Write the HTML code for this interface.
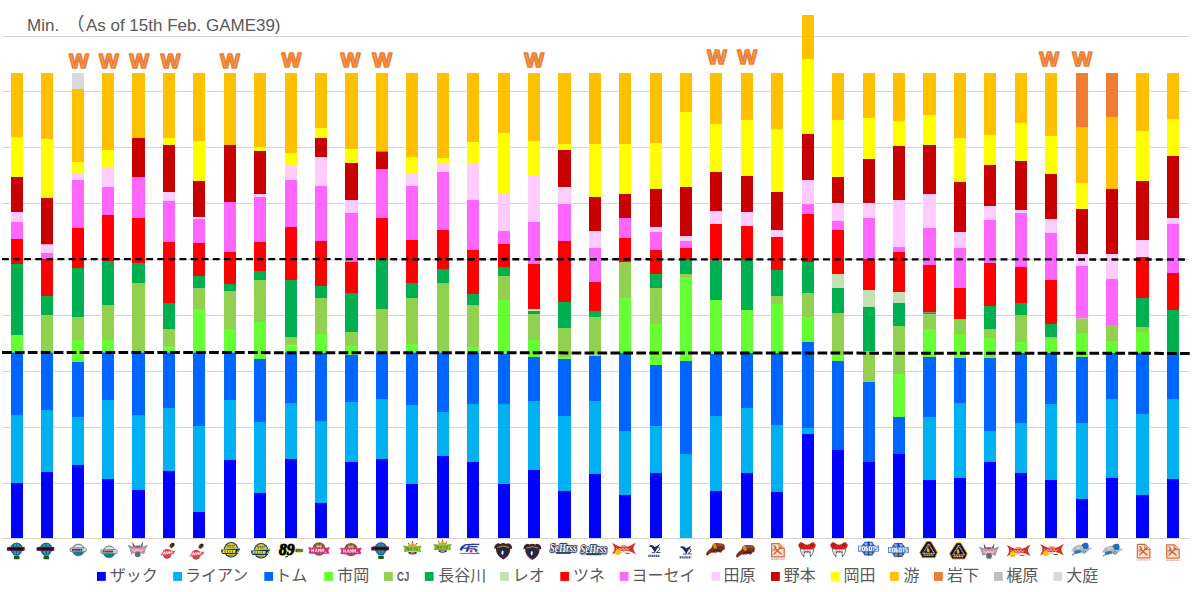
<!DOCTYPE html>
<html><head><meta charset="utf-8"><title>Min.</title>
<style>html,body{margin:0;padding:0;background:#fff;font-family:"Liberation Sans",sans-serif;}#c{position:relative;width:1193px;height:592px;overflow:hidden}</style></head>
<body><div id="c">
<svg width="1193" height="592" viewBox="0 0 1193 592" style="position:absolute;left:0;top:0">
<rect width="1193" height="592" fill="#fff"/>
<path d="M2 36.5H1189M2 91.5H1189M2 147.5H1189M2 203.5H1189M2 259.5H1189M2 315.5H1189M2 371.5H1189M2 427.5H1189M2 483.5H1189M2 538.5H1189" stroke="#D4D4D6" stroke-width="1" fill="none" shape-rendering="crispEdges"/>
<rect x="11.0" y="73.0" width="12" height="64.0" fill="#FFC000"/>
<rect x="11.0" y="137.0" width="12" height="40.0" fill="#FFFF00"/>
<rect x="11.0" y="177.0" width="12" height="35.0" fill="#C80000"/>
<rect x="11.0" y="212.0" width="12" height="10.0" fill="#FFCCFF"/>
<rect x="11.0" y="222.0" width="12" height="17.0" fill="#FF66FF"/>
<rect x="11.0" y="239.0" width="12" height="25.0" fill="#FF0000"/>
<rect x="11.0" y="264.0" width="12" height="71.0" fill="#00B050"/>
<rect x="11.0" y="335.0" width="12" height="17.5" fill="#66FF33"/>
<rect x="11.0" y="352.5" width="12" height="62.5" fill="#0066FF"/>
<rect x="11.0" y="415.0" width="12" height="68.0" fill="#00B0F0"/>
<rect x="11.0" y="483.0" width="12" height="55.0" fill="#0000FF"/>
<rect x="41.0" y="73.0" width="12" height="66.0" fill="#FFC000"/>
<rect x="41.0" y="139.0" width="12" height="59.0" fill="#FFFF00"/>
<rect x="41.0" y="198.0" width="12" height="46.5" fill="#C80000"/>
<rect x="41.0" y="244.5" width="12" height="8.5" fill="#FFCCFF"/>
<rect x="41.0" y="253.0" width="12" height="6.0" fill="#FF66FF"/>
<rect x="41.0" y="259.0" width="12" height="37.0" fill="#FF0000"/>
<rect x="41.0" y="296.0" width="12" height="19.0" fill="#00B050"/>
<rect x="41.0" y="315.0" width="12" height="37.5" fill="#92D050"/>
<rect x="41.0" y="352.5" width="12" height="57.5" fill="#0066FF"/>
<rect x="41.0" y="410.0" width="12" height="62.0" fill="#00B0F0"/>
<rect x="41.0" y="472.0" width="12" height="66.0" fill="#0000FF"/>
<rect x="72.0" y="73.0" width="12" height="16.0" fill="#D9D9D9"/>
<rect x="72.0" y="89.0" width="12" height="73.0" fill="#FFC000"/>
<rect x="72.0" y="162.0" width="12" height="12.0" fill="#FFFF00"/>
<rect x="72.0" y="174.0" width="12" height="6.0" fill="#FFCCFF"/>
<rect x="72.0" y="180.0" width="12" height="48.0" fill="#FF66FF"/>
<rect x="72.0" y="228.0" width="12" height="40.0" fill="#FF0000"/>
<rect x="72.0" y="268.0" width="12" height="49.0" fill="#00B050"/>
<rect x="72.0" y="317.0" width="12" height="23.0" fill="#92D050"/>
<rect x="72.0" y="340.0" width="12" height="22.0" fill="#66FF33"/>
<rect x="72.0" y="362.0" width="12" height="55.0" fill="#0066FF"/>
<rect x="72.0" y="417.0" width="12" height="48.0" fill="#00B0F0"/>
<rect x="72.0" y="465.0" width="12" height="73.0" fill="#0000FF"/>
<rect x="102.0" y="73.0" width="12" height="77.0" fill="#FFC000"/>
<rect x="102.0" y="150.0" width="12" height="18.0" fill="#FFFF00"/>
<rect x="102.0" y="168.0" width="12" height="19.0" fill="#FFCCFF"/>
<rect x="102.0" y="187.0" width="12" height="28.0" fill="#FF66FF"/>
<rect x="102.0" y="215.0" width="12" height="46.0" fill="#FF0000"/>
<rect x="102.0" y="261.0" width="12" height="44.0" fill="#00B050"/>
<rect x="102.0" y="305.0" width="12" height="35.0" fill="#92D050"/>
<rect x="102.0" y="340.0" width="12" height="12.5" fill="#66FF33"/>
<rect x="102.0" y="352.5" width="12" height="47.5" fill="#0066FF"/>
<rect x="102.0" y="400.0" width="12" height="79.0" fill="#00B0F0"/>
<rect x="102.0" y="479.0" width="12" height="59.0" fill="#0000FF"/>
<rect x="132.0" y="73.0" width="13" height="65.0" fill="#FFC000"/>
<rect x="132.0" y="138.0" width="13" height="39.0" fill="#C80000"/>
<rect x="132.0" y="177.0" width="13" height="41.0" fill="#FF66FF"/>
<rect x="132.0" y="218.0" width="13" height="45.0" fill="#FF0000"/>
<rect x="132.0" y="263.0" width="13" height="20.0" fill="#00B050"/>
<rect x="132.0" y="283.0" width="13" height="69.5" fill="#92D050"/>
<rect x="132.0" y="352.5" width="13" height="62.5" fill="#0066FF"/>
<rect x="132.0" y="415.0" width="13" height="75.0" fill="#00B0F0"/>
<rect x="132.0" y="490.0" width="13" height="48.0" fill="#0000FF"/>
<rect x="163.0" y="73.0" width="12" height="65.0" fill="#FFC000"/>
<rect x="163.0" y="138.0" width="12" height="7.0" fill="#FFFF00"/>
<rect x="163.0" y="145.0" width="12" height="47.0" fill="#C80000"/>
<rect x="163.0" y="192.0" width="12" height="9.0" fill="#FFCCFF"/>
<rect x="163.0" y="201.0" width="12" height="41.0" fill="#FF66FF"/>
<rect x="163.0" y="242.0" width="12" height="61.0" fill="#FF0000"/>
<rect x="163.0" y="303.0" width="12" height="26.0" fill="#00B050"/>
<rect x="163.0" y="329.0" width="12" height="18.5" fill="#92D050"/>
<rect x="163.0" y="347.5" width="12" height="5.0" fill="#66FF33"/>
<rect x="163.0" y="352.5" width="12" height="55.5" fill="#0066FF"/>
<rect x="163.0" y="408.0" width="12" height="63.0" fill="#00B0F0"/>
<rect x="163.0" y="471.0" width="12" height="67.0" fill="#0000FF"/>
<rect x="193.0" y="73.0" width="12" height="68.0" fill="#FFC000"/>
<rect x="193.0" y="141.0" width="12" height="40.0" fill="#FFFF00"/>
<rect x="193.0" y="181.0" width="12" height="36.0" fill="#C80000"/>
<rect x="193.0" y="217.0" width="12" height="2.0" fill="#FFCCFF"/>
<rect x="193.0" y="219.0" width="12" height="24.0" fill="#FF66FF"/>
<rect x="193.0" y="243.0" width="12" height="33.0" fill="#FF0000"/>
<rect x="193.0" y="276.0" width="12" height="12.5" fill="#00B050"/>
<rect x="193.0" y="288.5" width="12" height="20.5" fill="#92D050"/>
<rect x="193.0" y="309.0" width="12" height="43.5" fill="#66FF33"/>
<rect x="193.0" y="352.5" width="12" height="73.5" fill="#0066FF"/>
<rect x="193.0" y="426.0" width="12" height="86.0" fill="#00B0F0"/>
<rect x="193.0" y="512.0" width="12" height="26.0" fill="#0000FF"/>
<rect x="224.0" y="73.0" width="12" height="72.0" fill="#FFC000"/>
<rect x="224.0" y="145.0" width="12" height="57.0" fill="#C80000"/>
<rect x="224.0" y="202.0" width="12" height="50.0" fill="#FF66FF"/>
<rect x="224.0" y="252.0" width="12" height="32.0" fill="#FF0000"/>
<rect x="224.0" y="284.0" width="12" height="7.0" fill="#00B050"/>
<rect x="224.0" y="291.0" width="12" height="38.0" fill="#92D050"/>
<rect x="224.0" y="329.0" width="12" height="23.5" fill="#66FF33"/>
<rect x="224.0" y="352.5" width="12" height="47.5" fill="#0066FF"/>
<rect x="224.0" y="400.0" width="12" height="60.0" fill="#00B0F0"/>
<rect x="224.0" y="460.0" width="12" height="78.0" fill="#0000FF"/>
<rect x="254.0" y="73.0" width="12" height="74.0" fill="#FFC000"/>
<rect x="254.0" y="147.0" width="12" height="4.0" fill="#FFFF00"/>
<rect x="254.0" y="151.0" width="12" height="43.0" fill="#C80000"/>
<rect x="254.0" y="194.0" width="12" height="3.0" fill="#FFCCFF"/>
<rect x="254.0" y="197.0" width="12" height="45.0" fill="#FF66FF"/>
<rect x="254.0" y="242.0" width="12" height="29.0" fill="#FF0000"/>
<rect x="254.0" y="271.0" width="12" height="9.0" fill="#00B050"/>
<rect x="254.0" y="280.0" width="12" height="42.0" fill="#92D050"/>
<rect x="254.0" y="322.0" width="12" height="37.0" fill="#66FF33"/>
<rect x="254.0" y="359.0" width="12" height="63.0" fill="#0066FF"/>
<rect x="254.0" y="422.0" width="12" height="71.0" fill="#00B0F0"/>
<rect x="254.0" y="493.0" width="12" height="45.0" fill="#0000FF"/>
<rect x="285.0" y="73.0" width="12" height="80.0" fill="#FFC000"/>
<rect x="285.0" y="153.0" width="12" height="13.0" fill="#FFFF00"/>
<rect x="285.0" y="166.0" width="12" height="14.0" fill="#FFCCFF"/>
<rect x="285.0" y="180.0" width="12" height="47.0" fill="#FF66FF"/>
<rect x="285.0" y="227.0" width="12" height="53.0" fill="#FF0000"/>
<rect x="285.0" y="280.0" width="12" height="57.0" fill="#00B050"/>
<rect x="285.0" y="337.0" width="12" height="8.5" fill="#92D050"/>
<rect x="285.0" y="345.5" width="12" height="7.0" fill="#66FF33"/>
<rect x="285.0" y="352.5" width="12" height="50.5" fill="#0066FF"/>
<rect x="285.0" y="403.0" width="12" height="56.0" fill="#00B0F0"/>
<rect x="285.0" y="459.0" width="12" height="79.0" fill="#0000FF"/>
<rect x="315.0" y="73.0" width="12" height="55.0" fill="#FFC000"/>
<rect x="315.0" y="128.0" width="12" height="10.0" fill="#FFFF00"/>
<rect x="315.0" y="138.0" width="12" height="19.0" fill="#C80000"/>
<rect x="315.0" y="157.0" width="12" height="29.0" fill="#FFCCFF"/>
<rect x="315.0" y="186.0" width="12" height="55.0" fill="#FF66FF"/>
<rect x="315.0" y="241.0" width="12" height="45.0" fill="#FF0000"/>
<rect x="315.0" y="286.0" width="12" height="12.0" fill="#00B050"/>
<rect x="315.0" y="298.0" width="12" height="36.0" fill="#92D050"/>
<rect x="315.0" y="334.0" width="12" height="19.0" fill="#66FF33"/>
<rect x="315.0" y="353.0" width="12" height="68.0" fill="#0066FF"/>
<rect x="315.0" y="421.0" width="12" height="82.0" fill="#00B0F0"/>
<rect x="315.0" y="503.0" width="12" height="35.0" fill="#0000FF"/>
<rect x="345.0" y="73.0" width="13" height="76.0" fill="#FFC000"/>
<rect x="345.0" y="149.0" width="13" height="14.0" fill="#FFFF00"/>
<rect x="345.0" y="163.0" width="13" height="37.0" fill="#C80000"/>
<rect x="345.0" y="200.0" width="13" height="13.0" fill="#FFCCFF"/>
<rect x="345.0" y="213.0" width="13" height="49.0" fill="#FF66FF"/>
<rect x="345.0" y="262.0" width="13" height="31.0" fill="#FF0000"/>
<rect x="345.0" y="293.0" width="13" height="39.0" fill="#00B050"/>
<rect x="345.0" y="332.0" width="13" height="14.0" fill="#92D050"/>
<rect x="345.0" y="346.0" width="13" height="9.0" fill="#66FF33"/>
<rect x="345.0" y="355.0" width="13" height="47.0" fill="#0066FF"/>
<rect x="345.0" y="402.0" width="13" height="60.0" fill="#00B0F0"/>
<rect x="345.0" y="462.0" width="13" height="76.0" fill="#0000FF"/>
<rect x="376.0" y="73.0" width="12" height="78.5" fill="#FFC000"/>
<rect x="376.0" y="151.5" width="12" height="17.5" fill="#C80000"/>
<rect x="376.0" y="169.0" width="12" height="49.0" fill="#FF66FF"/>
<rect x="376.0" y="218.0" width="12" height="42.0" fill="#FF0000"/>
<rect x="376.0" y="260.0" width="12" height="49.0" fill="#00B050"/>
<rect x="376.0" y="309.0" width="12" height="43.5" fill="#92D050"/>
<rect x="376.0" y="352.5" width="12" height="46.5" fill="#0066FF"/>
<rect x="376.0" y="399.0" width="12" height="60.0" fill="#00B0F0"/>
<rect x="376.0" y="459.0" width="12" height="79.0" fill="#0000FF"/>
<rect x="406.0" y="73.0" width="12" height="84.0" fill="#FFC000"/>
<rect x="406.0" y="157.0" width="12" height="17.0" fill="#FFFF00"/>
<rect x="406.0" y="174.0" width="12" height="12.0" fill="#FFCCFF"/>
<rect x="406.0" y="186.0" width="12" height="54.0" fill="#FF66FF"/>
<rect x="406.0" y="240.0" width="12" height="43.0" fill="#FF0000"/>
<rect x="406.0" y="283.0" width="12" height="15.0" fill="#00B050"/>
<rect x="406.0" y="298.0" width="12" height="46.0" fill="#92D050"/>
<rect x="406.0" y="344.0" width="12" height="8.5" fill="#66FF33"/>
<rect x="406.0" y="352.5" width="12" height="52.5" fill="#0066FF"/>
<rect x="406.0" y="405.0" width="12" height="79.0" fill="#00B0F0"/>
<rect x="406.0" y="484.0" width="12" height="54.0" fill="#0000FF"/>
<rect x="437.0" y="73.0" width="12" height="85.0" fill="#FFC000"/>
<rect x="437.0" y="158.0" width="12" height="6.0" fill="#FFFF00"/>
<rect x="437.0" y="164.0" width="12" height="8.0" fill="#FFCCFF"/>
<rect x="437.0" y="172.0" width="12" height="58.0" fill="#FF66FF"/>
<rect x="437.0" y="230.0" width="12" height="39.0" fill="#FF0000"/>
<rect x="437.0" y="269.0" width="12" height="14.0" fill="#00B050"/>
<rect x="437.0" y="283.0" width="12" height="69.5" fill="#92D050"/>
<rect x="437.0" y="352.5" width="12" height="59.5" fill="#0066FF"/>
<rect x="437.0" y="412.0" width="12" height="44.0" fill="#00B0F0"/>
<rect x="437.0" y="456.0" width="12" height="82.0" fill="#0000FF"/>
<rect x="467.0" y="73.0" width="12" height="69.0" fill="#FFC000"/>
<rect x="467.0" y="142.0" width="12" height="22.0" fill="#FFFF00"/>
<rect x="467.0" y="164.0" width="12" height="36.0" fill="#FFCCFF"/>
<rect x="467.0" y="200.0" width="12" height="50.0" fill="#FF66FF"/>
<rect x="467.0" y="250.0" width="12" height="44.0" fill="#FF0000"/>
<rect x="467.0" y="294.0" width="12" height="11.0" fill="#00B050"/>
<rect x="467.0" y="305.0" width="12" height="42.0" fill="#92D050"/>
<rect x="467.0" y="347.0" width="12" height="5.5" fill="#66FF33"/>
<rect x="467.0" y="352.5" width="12" height="51.5" fill="#0066FF"/>
<rect x="467.0" y="404.0" width="12" height="58.0" fill="#00B0F0"/>
<rect x="467.0" y="462.0" width="12" height="76.0" fill="#0000FF"/>
<rect x="498.0" y="73.0" width="12" height="60.0" fill="#FFC000"/>
<rect x="498.0" y="133.0" width="12" height="61.0" fill="#FFFF00"/>
<rect x="498.0" y="194.0" width="12" height="37.0" fill="#FFCCFF"/>
<rect x="498.0" y="231.0" width="12" height="13.0" fill="#FF66FF"/>
<rect x="498.0" y="244.0" width="12" height="23.0" fill="#FF0000"/>
<rect x="498.0" y="267.0" width="12" height="9.0" fill="#00B050"/>
<rect x="498.0" y="276.0" width="12" height="24.0" fill="#92D050"/>
<rect x="498.0" y="300.0" width="12" height="54.0" fill="#66FF33"/>
<rect x="498.0" y="354.0" width="12" height="50.0" fill="#0066FF"/>
<rect x="498.0" y="404.0" width="12" height="80.0" fill="#00B0F0"/>
<rect x="498.0" y="484.0" width="12" height="54.0" fill="#0000FF"/>
<rect x="528.0" y="73.0" width="12" height="68.0" fill="#FFC000"/>
<rect x="528.0" y="141.0" width="12" height="35.0" fill="#FFFF00"/>
<rect x="528.0" y="176.0" width="12" height="46.0" fill="#FFCCFF"/>
<rect x="528.0" y="222.0" width="12" height="42.0" fill="#FF66FF"/>
<rect x="528.0" y="264.0" width="12" height="45.0" fill="#FF0000"/>
<rect x="528.0" y="309.0" width="12" height="2.0" fill="#C5E0B4"/>
<rect x="528.0" y="311.0" width="12" height="3.0" fill="#00B050"/>
<rect x="528.0" y="314.0" width="12" height="26.0" fill="#92D050"/>
<rect x="528.0" y="340.0" width="12" height="17.0" fill="#66FF33"/>
<rect x="528.0" y="357.0" width="12" height="44.0" fill="#0066FF"/>
<rect x="528.0" y="401.0" width="12" height="69.0" fill="#00B0F0"/>
<rect x="528.0" y="470.0" width="12" height="68.0" fill="#0000FF"/>
<rect x="558.0" y="73.0" width="13" height="71.0" fill="#FFC000"/>
<rect x="558.0" y="144.0" width="13" height="6.0" fill="#FFFF00"/>
<rect x="558.0" y="150.0" width="13" height="37.0" fill="#C80000"/>
<rect x="558.0" y="187.0" width="13" height="17.0" fill="#FFCCFF"/>
<rect x="558.0" y="204.0" width="13" height="37.0" fill="#FF66FF"/>
<rect x="558.0" y="241.0" width="13" height="61.0" fill="#FF0000"/>
<rect x="558.0" y="302.0" width="13" height="26.0" fill="#00B050"/>
<rect x="558.0" y="328.0" width="13" height="29.0" fill="#92D050"/>
<rect x="558.0" y="357.0" width="13" height="2.0" fill="#66FF33"/>
<rect x="558.0" y="359.0" width="13" height="57.0" fill="#0066FF"/>
<rect x="558.0" y="416.0" width="13" height="75.0" fill="#00B0F0"/>
<rect x="558.0" y="491.0" width="13" height="47.0" fill="#0000FF"/>
<rect x="589.0" y="73.0" width="12" height="71.0" fill="#FFC000"/>
<rect x="589.0" y="144.0" width="12" height="53.0" fill="#FFFF00"/>
<rect x="589.0" y="197.0" width="12" height="34.0" fill="#C80000"/>
<rect x="589.0" y="231.0" width="12" height="17.0" fill="#FFCCFF"/>
<rect x="589.0" y="248.0" width="12" height="34.0" fill="#FF66FF"/>
<rect x="589.0" y="282.0" width="12" height="29.0" fill="#FF0000"/>
<rect x="589.0" y="311.0" width="12" height="6.0" fill="#00B050"/>
<rect x="589.0" y="317.0" width="12" height="37.5" fill="#92D050"/>
<rect x="589.0" y="354.5" width="12" height="1.5" fill="#66FF33"/>
<rect x="589.0" y="356.0" width="12" height="45.0" fill="#0066FF"/>
<rect x="589.0" y="401.0" width="12" height="73.0" fill="#00B0F0"/>
<rect x="589.0" y="474.0" width="12" height="64.0" fill="#0000FF"/>
<rect x="619.0" y="73.0" width="12" height="71.0" fill="#FFC000"/>
<rect x="619.0" y="144.0" width="12" height="50.0" fill="#FFFF00"/>
<rect x="619.0" y="194.0" width="12" height="24.0" fill="#C80000"/>
<rect x="619.0" y="218.0" width="12" height="20.0" fill="#FF66FF"/>
<rect x="619.0" y="238.0" width="12" height="24.0" fill="#FF0000"/>
<rect x="619.0" y="262.0" width="12" height="36.0" fill="#92D050"/>
<rect x="619.0" y="298.0" width="12" height="55.0" fill="#66FF33"/>
<rect x="619.0" y="353.0" width="12" height="78.0" fill="#0066FF"/>
<rect x="619.0" y="431.0" width="12" height="64.0" fill="#00B0F0"/>
<rect x="619.0" y="495.0" width="12" height="43.0" fill="#0000FF"/>
<rect x="650.0" y="73.0" width="12" height="70.0" fill="#FFC000"/>
<rect x="650.0" y="143.0" width="12" height="46.0" fill="#FFFF00"/>
<rect x="650.0" y="189.0" width="12" height="38.0" fill="#C80000"/>
<rect x="650.0" y="227.0" width="12" height="5.0" fill="#FFCCFF"/>
<rect x="650.0" y="232.0" width="12" height="18.0" fill="#FF66FF"/>
<rect x="650.0" y="250.0" width="12" height="24.0" fill="#FF0000"/>
<rect x="650.0" y="274.0" width="12" height="14.0" fill="#00B050"/>
<rect x="650.0" y="288.0" width="12" height="36.0" fill="#92D050"/>
<rect x="650.0" y="324.0" width="12" height="41.0" fill="#66FF33"/>
<rect x="650.0" y="365.0" width="12" height="61.0" fill="#0066FF"/>
<rect x="650.0" y="426.0" width="12" height="47.0" fill="#00B0F0"/>
<rect x="650.0" y="473.0" width="12" height="65.0" fill="#0000FF"/>
<rect x="680.0" y="73.0" width="12" height="39.0" fill="#FFC000"/>
<rect x="680.0" y="112.0" width="12" height="75.0" fill="#FFFF00"/>
<rect x="680.0" y="187.0" width="12" height="49.0" fill="#C80000"/>
<rect x="680.0" y="236.0" width="12" height="5.0" fill="#FFCCFF"/>
<rect x="680.0" y="241.0" width="12" height="7.0" fill="#FF66FF"/>
<rect x="680.0" y="248.0" width="12" height="12.0" fill="#FF0000"/>
<rect x="680.0" y="260.0" width="12" height="14.0" fill="#00B050"/>
<rect x="680.0" y="274.0" width="12" height="3.0" fill="#92D050"/>
<rect x="680.0" y="277.0" width="12" height="84.0" fill="#66FF33"/>
<rect x="680.0" y="361.0" width="12" height="93.0" fill="#0066FF"/>
<rect x="680.0" y="454.0" width="12" height="84.0" fill="#00B0F0"/>
<rect x="710.0" y="73.0" width="12" height="51.0" fill="#FFC000"/>
<rect x="710.0" y="124.0" width="12" height="48.0" fill="#FFFF00"/>
<rect x="710.0" y="172.0" width="12" height="39.0" fill="#C80000"/>
<rect x="710.0" y="211.0" width="12" height="13.0" fill="#FFCCFF"/>
<rect x="710.0" y="224.0" width="12" height="36.5" fill="#FF0000"/>
<rect x="710.0" y="260.5" width="12" height="39.5" fill="#00B050"/>
<rect x="710.0" y="300.0" width="12" height="54.0" fill="#66FF33"/>
<rect x="710.0" y="354.0" width="12" height="62.0" fill="#0066FF"/>
<rect x="710.0" y="416.0" width="12" height="75.0" fill="#00B0F0"/>
<rect x="710.0" y="491.0" width="12" height="47.0" fill="#0000FF"/>
<rect x="741.0" y="73.0" width="12" height="47.0" fill="#FFC000"/>
<rect x="741.0" y="120.0" width="12" height="56.0" fill="#FFFF00"/>
<rect x="741.0" y="176.0" width="12" height="36.0" fill="#C80000"/>
<rect x="741.0" y="212.0" width="12" height="14.0" fill="#FFCCFF"/>
<rect x="741.0" y="226.0" width="12" height="34.0" fill="#FF0000"/>
<rect x="741.0" y="260.0" width="12" height="50.0" fill="#00B050"/>
<rect x="741.0" y="310.0" width="12" height="43.0" fill="#66FF33"/>
<rect x="741.0" y="353.0" width="12" height="55.0" fill="#0066FF"/>
<rect x="741.0" y="408.0" width="12" height="65.0" fill="#00B0F0"/>
<rect x="741.0" y="473.0" width="12" height="65.0" fill="#0000FF"/>
<rect x="771.0" y="73.0" width="12" height="56.0" fill="#FFC000"/>
<rect x="771.0" y="129.0" width="12" height="63.0" fill="#FFFF00"/>
<rect x="771.0" y="192.0" width="12" height="38.0" fill="#C80000"/>
<rect x="771.0" y="230.0" width="12" height="7.0" fill="#FFCCFF"/>
<rect x="771.0" y="237.0" width="12" height="33.0" fill="#FF0000"/>
<rect x="771.0" y="270.0" width="12" height="26.0" fill="#00B050"/>
<rect x="771.0" y="296.0" width="12" height="8.0" fill="#92D050"/>
<rect x="771.0" y="304.0" width="12" height="49.0" fill="#66FF33"/>
<rect x="771.0" y="353.0" width="12" height="72.0" fill="#0066FF"/>
<rect x="771.0" y="425.0" width="12" height="67.0" fill="#00B0F0"/>
<rect x="771.0" y="492.0" width="12" height="46.0" fill="#0000FF"/>
<rect x="802.0" y="15.0" width="12" height="44.0" fill="#FFC000"/>
<rect x="802.0" y="59.0" width="12" height="75.0" fill="#FFFF00"/>
<rect x="802.0" y="134.0" width="12" height="46.0" fill="#C80000"/>
<rect x="802.0" y="180.0" width="12" height="24.0" fill="#FFCCFF"/>
<rect x="802.0" y="204.0" width="12" height="10.0" fill="#FF66FF"/>
<rect x="802.0" y="214.0" width="12" height="48.0" fill="#FF0000"/>
<rect x="802.0" y="262.0" width="12" height="31.0" fill="#00B050"/>
<rect x="802.0" y="293.0" width="12" height="24.0" fill="#92D050"/>
<rect x="802.0" y="317.0" width="12" height="25.0" fill="#66FF33"/>
<rect x="802.0" y="342.0" width="12" height="86.0" fill="#0066FF"/>
<rect x="802.0" y="428.0" width="12" height="6.0" fill="#00B0F0"/>
<rect x="802.0" y="434.0" width="12" height="104.0" fill="#0000FF"/>
<rect x="832.0" y="73.0" width="12" height="47.0" fill="#FFC000"/>
<rect x="832.0" y="120.0" width="12" height="57.0" fill="#FFFF00"/>
<rect x="832.0" y="177.0" width="12" height="26.0" fill="#C80000"/>
<rect x="832.0" y="203.0" width="12" height="18.0" fill="#FFCCFF"/>
<rect x="832.0" y="221.0" width="12" height="9.0" fill="#FF66FF"/>
<rect x="832.0" y="230.0" width="12" height="44.0" fill="#FF0000"/>
<rect x="832.0" y="274.0" width="12" height="14.0" fill="#C5E0B4"/>
<rect x="832.0" y="288.0" width="12" height="25.0" fill="#00B050"/>
<rect x="832.0" y="313.0" width="12" height="42.0" fill="#92D050"/>
<rect x="832.0" y="355.0" width="12" height="6.0" fill="#66FF33"/>
<rect x="832.0" y="361.0" width="12" height="89.0" fill="#0066FF"/>
<rect x="832.0" y="450.0" width="12" height="88.0" fill="#0000FF"/>
<rect x="863.0" y="73.0" width="12" height="45.0" fill="#FFC000"/>
<rect x="863.0" y="118.0" width="12" height="41.0" fill="#FFFF00"/>
<rect x="863.0" y="159.0" width="12" height="44.0" fill="#C80000"/>
<rect x="863.0" y="203.0" width="12" height="15.0" fill="#FFCCFF"/>
<rect x="863.0" y="218.0" width="12" height="41.0" fill="#FF66FF"/>
<rect x="863.0" y="259.0" width="12" height="31.0" fill="#FF0000"/>
<rect x="863.0" y="290.0" width="12" height="17.0" fill="#C5E0B4"/>
<rect x="863.0" y="307.0" width="12" height="44.0" fill="#00B050"/>
<rect x="863.0" y="351.0" width="12" height="31.0" fill="#92D050"/>
<rect x="863.0" y="382.0" width="12" height="80.0" fill="#0066FF"/>
<rect x="863.0" y="462.0" width="12" height="76.0" fill="#0000FF"/>
<rect x="893.0" y="73.0" width="12" height="48.0" fill="#FFC000"/>
<rect x="893.0" y="121.0" width="12" height="25.0" fill="#FFFF00"/>
<rect x="893.0" y="146.0" width="12" height="54.0" fill="#C80000"/>
<rect x="893.0" y="200.0" width="12" height="47.0" fill="#FFCCFF"/>
<rect x="893.0" y="247.0" width="12" height="5.0" fill="#FF66FF"/>
<rect x="893.0" y="252.0" width="12" height="40.0" fill="#FF0000"/>
<rect x="893.0" y="292.0" width="12" height="11.0" fill="#C5E0B4"/>
<rect x="893.0" y="303.0" width="12" height="23.0" fill="#00B050"/>
<rect x="893.0" y="326.0" width="12" height="48.0" fill="#92D050"/>
<rect x="893.0" y="374.0" width="12" height="43.0" fill="#66FF33"/>
<rect x="893.0" y="417.0" width="12" height="37.0" fill="#0066FF"/>
<rect x="893.0" y="454.0" width="12" height="84.0" fill="#0000FF"/>
<rect x="923.0" y="73.0" width="13" height="42.0" fill="#FFC000"/>
<rect x="923.0" y="115.0" width="13" height="30.0" fill="#FFFF00"/>
<rect x="923.0" y="145.0" width="13" height="49.0" fill="#C80000"/>
<rect x="923.0" y="194.0" width="13" height="34.0" fill="#FFCCFF"/>
<rect x="923.0" y="228.0" width="13" height="37.0" fill="#FF66FF"/>
<rect x="923.0" y="265.0" width="13" height="47.5" fill="#FF0000"/>
<rect x="923.0" y="312.5" width="13" height="2.0" fill="#00B050"/>
<rect x="923.0" y="314.5" width="13" height="14.5" fill="#92D050"/>
<rect x="923.0" y="329.0" width="13" height="28.0" fill="#66FF33"/>
<rect x="923.0" y="357.0" width="13" height="60.0" fill="#0066FF"/>
<rect x="923.0" y="417.0" width="13" height="63.0" fill="#00B0F0"/>
<rect x="923.0" y="480.0" width="13" height="58.0" fill="#0000FF"/>
<rect x="954.0" y="73.0" width="12" height="65.0" fill="#FFC000"/>
<rect x="954.0" y="138.0" width="12" height="44.0" fill="#FFFF00"/>
<rect x="954.0" y="182.0" width="12" height="50.0" fill="#C80000"/>
<rect x="954.0" y="232.0" width="12" height="16.0" fill="#FFCCFF"/>
<rect x="954.0" y="248.0" width="12" height="40.0" fill="#FF66FF"/>
<rect x="954.0" y="288.0" width="12" height="31.0" fill="#FF0000"/>
<rect x="954.0" y="319.0" width="12" height="15.0" fill="#92D050"/>
<rect x="954.0" y="334.0" width="12" height="24.0" fill="#66FF33"/>
<rect x="954.0" y="358.0" width="12" height="45.0" fill="#0066FF"/>
<rect x="954.0" y="403.0" width="12" height="75.0" fill="#00B0F0"/>
<rect x="954.0" y="478.0" width="12" height="60.0" fill="#0000FF"/>
<rect x="984.0" y="73.0" width="12" height="62.0" fill="#FFC000"/>
<rect x="984.0" y="135.0" width="12" height="30.0" fill="#FFFF00"/>
<rect x="984.0" y="165.0" width="12" height="41.0" fill="#C80000"/>
<rect x="984.0" y="206.0" width="12" height="14.0" fill="#FFCCFF"/>
<rect x="984.0" y="220.0" width="12" height="43.0" fill="#FF66FF"/>
<rect x="984.0" y="263.0" width="12" height="43.0" fill="#FF0000"/>
<rect x="984.0" y="306.0" width="12" height="23.0" fill="#00B050"/>
<rect x="984.0" y="329.0" width="12" height="9.0" fill="#92D050"/>
<rect x="984.0" y="338.0" width="12" height="20.0" fill="#66FF33"/>
<rect x="984.0" y="358.0" width="12" height="73.0" fill="#0066FF"/>
<rect x="984.0" y="431.0" width="12" height="31.0" fill="#00B0F0"/>
<rect x="984.0" y="462.0" width="12" height="76.0" fill="#0000FF"/>
<rect x="1015.0" y="73.0" width="12" height="50.0" fill="#FFC000"/>
<rect x="1015.0" y="123.0" width="12" height="38.0" fill="#FFFF00"/>
<rect x="1015.0" y="161.0" width="12" height="49.0" fill="#C80000"/>
<rect x="1015.0" y="210.0" width="12" height="3.0" fill="#FFCCFF"/>
<rect x="1015.0" y="213.0" width="12" height="54.0" fill="#FF66FF"/>
<rect x="1015.0" y="267.0" width="12" height="36.0" fill="#FF0000"/>
<rect x="1015.0" y="303.0" width="12" height="12.0" fill="#00B050"/>
<rect x="1015.0" y="315.0" width="12" height="27.0" fill="#92D050"/>
<rect x="1015.0" y="342.0" width="12" height="11.0" fill="#66FF33"/>
<rect x="1015.0" y="353.0" width="12" height="70.0" fill="#0066FF"/>
<rect x="1015.0" y="423.0" width="12" height="50.0" fill="#00B0F0"/>
<rect x="1015.0" y="473.0" width="12" height="65.0" fill="#0000FF"/>
<rect x="1045.0" y="73.0" width="12" height="63.0" fill="#FFC000"/>
<rect x="1045.0" y="136.0" width="12" height="38.0" fill="#FFFF00"/>
<rect x="1045.0" y="174.0" width="12" height="45.0" fill="#C80000"/>
<rect x="1045.0" y="219.0" width="12" height="14.0" fill="#FFCCFF"/>
<rect x="1045.0" y="233.0" width="12" height="47.0" fill="#FF66FF"/>
<rect x="1045.0" y="280.0" width="12" height="44.0" fill="#FF0000"/>
<rect x="1045.0" y="324.0" width="12" height="13.0" fill="#00B050"/>
<rect x="1045.0" y="337.0" width="12" height="2.0" fill="#92D050"/>
<rect x="1045.0" y="339.0" width="12" height="14.0" fill="#66FF33"/>
<rect x="1045.0" y="353.0" width="12" height="51.0" fill="#0066FF"/>
<rect x="1045.0" y="404.0" width="12" height="76.0" fill="#00B0F0"/>
<rect x="1045.0" y="480.0" width="12" height="58.0" fill="#0000FF"/>
<rect x="1076.0" y="73.0" width="12" height="54.0" fill="#ED7D31"/>
<rect x="1076.0" y="127.0" width="12" height="56.0" fill="#FFC000"/>
<rect x="1076.0" y="183.0" width="12" height="26.0" fill="#FFFF00"/>
<rect x="1076.0" y="209.0" width="12" height="45.0" fill="#C80000"/>
<rect x="1076.0" y="254.0" width="12" height="12.0" fill="#FFCCFF"/>
<rect x="1076.0" y="266.0" width="12" height="52.5" fill="#FF66FF"/>
<rect x="1076.0" y="318.5" width="12" height="14.5" fill="#92D050"/>
<rect x="1076.0" y="333.0" width="12" height="24.0" fill="#66FF33"/>
<rect x="1076.0" y="357.0" width="12" height="66.0" fill="#0066FF"/>
<rect x="1076.0" y="423.0" width="12" height="76.0" fill="#00B0F0"/>
<rect x="1076.0" y="499.0" width="12" height="39.0" fill="#0000FF"/>
<rect x="1106.0" y="73.0" width="12" height="44.0" fill="#ED7D31"/>
<rect x="1106.0" y="117.0" width="12" height="72.0" fill="#FFC000"/>
<rect x="1106.0" y="189.0" width="12" height="65.0" fill="#C80000"/>
<rect x="1106.0" y="254.0" width="12" height="25.0" fill="#FFCCFF"/>
<rect x="1106.0" y="279.0" width="12" height="46.0" fill="#FF66FF"/>
<rect x="1106.0" y="325.0" width="12" height="16.0" fill="#92D050"/>
<rect x="1106.0" y="341.0" width="12" height="12.0" fill="#66FF33"/>
<rect x="1106.0" y="353.0" width="12" height="46.0" fill="#0066FF"/>
<rect x="1106.0" y="399.0" width="12" height="79.0" fill="#00B0F0"/>
<rect x="1106.0" y="478.0" width="12" height="60.0" fill="#0000FF"/>
<rect x="1136.0" y="73.0" width="13" height="58.0" fill="#FFC000"/>
<rect x="1136.0" y="131.0" width="13" height="50.0" fill="#FFFF00"/>
<rect x="1136.0" y="181.0" width="13" height="59.0" fill="#C80000"/>
<rect x="1136.0" y="240.0" width="13" height="17.0" fill="#FFCCFF"/>
<rect x="1136.0" y="257.0" width="13" height="41.0" fill="#FF0000"/>
<rect x="1136.0" y="298.0" width="13" height="29.0" fill="#00B050"/>
<rect x="1136.0" y="327.0" width="13" height="5.0" fill="#92D050"/>
<rect x="1136.0" y="332.0" width="13" height="21.0" fill="#66FF33"/>
<rect x="1136.0" y="353.0" width="13" height="61.0" fill="#0066FF"/>
<rect x="1136.0" y="414.0" width="13" height="81.0" fill="#00B0F0"/>
<rect x="1136.0" y="495.0" width="13" height="43.0" fill="#0000FF"/>
<rect x="1167.0" y="73.0" width="12" height="46.0" fill="#FFC000"/>
<rect x="1167.0" y="119.0" width="12" height="37.0" fill="#FFFF00"/>
<rect x="1167.0" y="156.0" width="12" height="62.0" fill="#C80000"/>
<rect x="1167.0" y="218.0" width="12" height="6.0" fill="#FFCCFF"/>
<rect x="1167.0" y="224.0" width="12" height="49.0" fill="#FF66FF"/>
<rect x="1167.0" y="273.0" width="12" height="37.0" fill="#FF0000"/>
<rect x="1167.0" y="310.0" width="12" height="43.0" fill="#00B050"/>
<rect x="1167.0" y="353.0" width="12" height="46.0" fill="#0066FF"/>
<rect x="1167.0" y="399.0" width="12" height="80.0" fill="#00B0F0"/>
<rect x="1167.0" y="479.0" width="12" height="59.0" fill="#0000FF"/>
<path d="M2 259.05L1185 259.5" stroke="#000" stroke-width="2.35" stroke-dasharray="6.85 4.245" fill="none"/>
<path d="M2 352.4L1190 353.4" stroke="#000" stroke-width="3" stroke-dasharray="9.65 3.296" fill="none"/>
<g font-family="'Liberation Sans',sans-serif" font-weight="bold" font-size="19.4" fill="#F4A96E" stroke="#ED7D31" stroke-width="1.6" stroke-linejoin="round">
<text transform="translate(69.3 68.2) scale(1.064 1)" x="0" y="0">W</text>
<text transform="translate(99.2 68.2) scale(1.064 1)" x="0" y="0">W</text>
<text transform="translate(129.6 68.2) scale(1.064 1)" x="0" y="0">W</text>
<text transform="translate(160.7 68.2) scale(1.064 1)" x="0" y="0">W</text>
<text transform="translate(220.3 68.2) scale(1.064 1)" x="0" y="0">W</text>
<text transform="translate(281.8 67.2) scale(1.064 1)" x="0" y="0">W</text>
<text transform="translate(340.8 67.2) scale(1.064 1)" x="0" y="0">W</text>
<text transform="translate(372.4 67.2) scale(1.064 1)" x="0" y="0">W</text>
<text transform="translate(524.6 67.1) scale(1.064 1)" x="0" y="0">W</text>
<text transform="translate(707.3 64.3) scale(1.064 1)" x="0" y="0">W</text>
<text transform="translate(737.6 64.3) scale(1.064 1)" x="0" y="0">W</text>
<text transform="translate(1039.6 65.6) scale(1.064 1)" x="0" y="0">W</text>
<text transform="translate(1072.6 65.6) scale(1.064 1)" x="0" y="0">W</text>
</g>
<text x="27" y="30.5" font-family="'Liberation Sans',sans-serif" font-size="17" fill="#595959">Min.</text>
<text x="66.4" y="30.4" font-family="'Liberation Sans','Noto Sans CJK JP',sans-serif" font-size="18" fill="#595959">（</text>
<text x="85.9" y="30.5" font-family="'Liberation Sans',sans-serif" font-size="17" fill="#595959">As of 15th Feb. GAME39)</text>
<g font-family="'Liberation Sans','Noto Sans CJK JP',sans-serif" font-size="16" fill="#595959">
<rect x="97.0" y="572" width="8.8" height="8.9" fill="#0000FF"/>
<text x="109.7" y="580.7">ザック</text>
<rect x="173.2" y="572" width="8.8" height="8.9" fill="#00B0F0"/>
<text x="185" y="580.7">ライアン</text>
<rect x="264.3" y="572" width="8.8" height="8.9" fill="#0066FF"/>
<text x="275.2" y="580.7">トム</text>
<rect x="324.2" y="572" width="8.8" height="8.9" fill="#66FF33"/>
<text x="337.2" y="580.7">市岡</text>
<rect x="384.0" y="572" width="8.8" height="8.9" fill="#92D050"/>
<text transform="translate(397.11 580.8) scale(0.705 .97)" x="0" y="0" font-family="'Liberation Sans',sans-serif" font-weight="bold" font-size="13.6">CJ</text>
<rect x="424.8" y="572" width="8.8" height="8.9" fill="#00B050"/>
<text x="438.3" y="580.7">長谷川</text>
<rect x="500.0" y="572" width="8.8" height="8.9" fill="#C5E0B4"/>
<text x="512.7" y="580.7">レオ</text>
<rect x="560.3" y="572" width="8.8" height="8.9" fill="#FF0000"/>
<text x="573.1" y="580.7">ツネ</text>
<rect x="619.7" y="572" width="8.8" height="8.9" fill="#FF66FF"/>
<text x="631.5" y="580.7">ヨーセイ</text>
<rect x="711.5" y="572" width="8.8" height="8.9" fill="#FFCCFF"/>
<text x="723.6" y="580.7">田原</text>
<rect x="771.0" y="572" width="8.8" height="8.9" fill="#C80000"/>
<text x="783.7" y="580.7">野本</text>
<rect x="830.8" y="572" width="8.8" height="8.9" fill="#FFFF00"/>
<text x="843.4" y="580.7">岡田</text>
<rect x="890.0" y="572" width="8.8" height="8.9" fill="#FFC000"/>
<text x="903.4" y="580.7">游</text>
<rect x="934.0" y="572" width="8.8" height="8.9" fill="#ED7D31"/>
<text x="947.1" y="580.7">岩下</text>
<rect x="994.0" y="572" width="8.8" height="8.9" fill="#BFBFBF"/>
<text x="1006.3" y="580.7">梶原</text>
<rect x="1053.5" y="572" width="8.8" height="8.9" fill="#D9D9D9"/>
<text x="1066.2" y="580.7">大庭</text>
</g>
<path d="M16.6 543.1c3.6 0 5.8 2.6 5.8 5.6c0 2.8-2.2 5-3.6 6.6h-4.4c-1.4-1.6-3.6-3.8-3.6-6.6c0-3 2.2-5.6 5.8-5.6z" fill="#1B9CBE" stroke="#0c3c4c" stroke-width=".7"/><path d="M16.6 543.3v11.8M13.6 544.2c-1 3-1 7 .6 10.8M19.6 544.2c1 3 1 7-.6 10.8" stroke="#0B5870" stroke-width=".8" fill="none"/><path d="M6.9 547.6q2-1.2 5-.8l12.8 .1v3.6q-3 .9-6 .4l-11.8-.1z" fill="#5E1240"/><path d="M9 548.9h14" stroke="#1a0512" stroke-width="1.4"/><rect x="13.9" y="556.1" width="5.6" height="3.2" rx=".6" fill="#1C5A20"/>
<g transform="translate(29.6 0.0)"><path d="M16.6 543.1c3.6 0 5.8 2.6 5.8 5.6c0 2.8-2.2 5-3.6 6.6h-4.4c-1.4-1.6-3.6-3.8-3.6-6.6c0-3 2.2-5.6 5.8-5.6z" fill="#1B9CBE" stroke="#0c3c4c" stroke-width=".7"/><path d="M16.6 543.3v11.8M13.6 544.2c-1 3-1 7 .6 10.8M19.6 544.2c1 3 1 7-.6 10.8" stroke="#0B5870" stroke-width=".8" fill="none"/><path d="M6.9 547.6q2-1.2 5-.8l12.8 .1v3.6q-3 .9-6 .4l-11.8-.1z" fill="#5E1240"/><path d="M9 548.9h14" stroke="#1a0512" stroke-width="1.4"/><rect x="13.9" y="556.1" width="5.6" height="3.2" rx=".6" fill="#1C5A20"/></g>
<g transform="translate(364.3 -0.4)"><path d="M16.6 543.1c3.6 0 5.8 2.6 5.8 5.6c0 2.8-2.2 5-3.6 6.6h-4.4c-1.4-1.6-3.6-3.8-3.6-6.6c0-3 2.2-5.6 5.8-5.6z" fill="#1B9CBE" stroke="#0c3c4c" stroke-width=".7"/><path d="M16.6 543.3v11.8M13.6 544.2c-1 3-1 7 .6 10.8M19.6 544.2c1 3 1 7-.6 10.8" stroke="#0B5870" stroke-width=".8" fill="none"/><path d="M6.9 547.6q2-1.2 5-.8l12.8 .1v3.6q-3 .9-6 .4l-11.8-.1z" fill="#5E1240"/><path d="M9 548.9h14" stroke="#1a0512" stroke-width="1.4"/><rect x="13.9" y="556.1" width="5.6" height="3.2" rx=".6" fill="#1C5A20"/></g>
<ellipse cx="78.3" cy="550" rx="6" ry="5.9" fill="#9CC2CC" stroke="#5a6468" stroke-width=".8"/><path d="M72.6 551.5a6 5.9 0 0 0 11.4 0z" fill="#1A7C8C"/><path d="M73.5 547.2a6 5 0 0 1 9.6 0z" fill="#dfeef2"/><rect x="70.1" y="547.9" width="16.2" height="3.8" rx=".8" fill="#c4c8ca" stroke="#5a5e60" stroke-width=".6"/><path d="M72 549.800h10.500" stroke="#34383a" stroke-width="1.700" stroke-dasharray="1.700 .400"/><path d="M84 548.3l1.6 1.2-1.6 1.6" stroke="#fff" stroke-width=".6" fill="none"/>
<g transform="translate(30.8 1.9)"><ellipse cx="78.3" cy="550" rx="6" ry="5.9" fill="#9CC2CC" stroke="#5a6468" stroke-width=".8"/><path d="M72.6 551.5a6 5.9 0 0 0 11.4 0z" fill="#1A7C8C"/><path d="M73.5 547.2a6 5 0 0 1 9.6 0z" fill="#dfeef2"/><rect x="70.1" y="547.9" width="16.2" height="3.8" rx=".8" fill="#c4c8ca" stroke="#5a5e60" stroke-width=".6"/><path d="M72 549.800h10.500" stroke="#34383a" stroke-width="1.700" stroke-dasharray="1.700 .400"/><path d="M84 548.3l1.6 1.2-1.6 1.6" stroke="#fff" stroke-width=".6" fill="none"/></g>
<path d="M133.200 548l-1-6.700 3 5zM142.200 548l1-6.700-3 5z" fill="#4C6464"/><path d="M127.600 544.800l5.600 2h9l5.900-2-2.400 3.800-1.500 5.600-3.600-1.400h-5.800l-3.600 1.400-1.500-5.600z" fill="#8e949e"/><path d="M130.200 547.400h15l-1.400 5.600-3.300-1.200h-5.600l-3.300 1.200z" fill="#E58AA0"/><path d="M132.300 549.200l2.600 2.400 1.500-2.400 1.300 2.400 1.400-2.400 1.500 2.400 2.500-2.400" stroke="#fbe4ea" stroke-width=".8" fill="none"/><circle cx="137.700" cy="554.300" r="2.900" fill="#5E6C78"/><path d="M135.200 545.600h5v1.900h-5z" fill="#7a5a68"/>
<g transform="translate(851.3 1.6)"><path d="M133.200 548l-1-6.700 3 5zM142.200 548l1-6.700-3 5z" fill="#4C6464"/><path d="M127.600 544.800l5.600 2h9l5.900-2-2.400 3.800-1.500 5.600-3.600-1.400h-5.800l-3.600 1.400-1.500-5.600z" fill="#8e949e"/><path d="M130.200 547.400h15l-1.400 5.600-3.300-1.200h-5.600l-3.300 1.200z" fill="#E58AA0"/><path d="M132.300 549.200l2.600 2.400 1.500-2.400 1.300 2.400 1.400-2.400 1.500 2.400 2.500-2.400" stroke="#fbe4ea" stroke-width=".8" fill="none"/><circle cx="137.700" cy="554.300" r="2.900" fill="#5E6C78"/><path d="M135.200 545.600h5v1.900h-5z" fill="#7a5a68"/></g>
<path d="M169.400 546.800q.4-3.400 3-4.100q2.400 0 2.200 2.400q-.8 2.200-3.200 3.100z" fill="#4a3c20"/><circle cx="172.900" cy="544.100" r="1" fill="#1e1810"/><circle cx="167.100" cy="553.600" r="4.700" fill="#D8444E"/><path d="M160.200 555.300l3.800-4.500h11.400l-1.700 3.300-9.200 1.600z" fill="#E25862"/><path d="M162.800 554.600l1.600-3 .8 2.600 1.600-2.800.6 2.500 1.800-2.500.5 2.300 2-2.300 .400 1.800" stroke="#fdeef0" stroke-width=".9" fill="none"/><path d="M164 557.300a5 5 0 0 0 6.300-.2" stroke="#9a2a30" stroke-width=".8" fill="none"/>
<g transform="translate(29.0 0.9)"><path d="M169.400 546.800q.4-3.400 3-4.100q2.400 0 2.200 2.400q-.8 2.200-3.200 3.100z" fill="#4a3c20"/><circle cx="172.900" cy="544.100" r="1" fill="#1e1810"/><circle cx="167.100" cy="553.600" r="4.700" fill="#D8444E"/><path d="M160.200 555.300l3.800-4.500h11.400l-1.700 3.300-9.200 1.600z" fill="#E25862"/><path d="M162.800 554.600l1.600-3 .8 2.600 1.600-2.800.6 2.500 1.800-2.500.5 2.300 2-2.300 .400 1.800" stroke="#fdeef0" stroke-width=".9" fill="none"/><path d="M164 557.300a5 5 0 0 0 6.300-.2" stroke="#9a2a30" stroke-width=".8" fill="none"/></g>
<ellipse cx="231.100" cy="549.800" rx="7.300" ry="7.800" fill="#123456"/><ellipse cx="231.100" cy="549.800" rx="6.300" ry="6.800" fill="#E6D61C"/><path d="M227 545.400h8.200M227.400 547h7.400M228.400 555.200h5.400" stroke="#123456" stroke-width=".7" stroke-dasharray="1.800 .500"/><path d="M221.200 549.600l19.200-1.200-1.600 3-1.400 2.600h-15l-1.200-2.200z" fill="#123456"/><path d="M221.800 549.300l18.200-1.100" stroke="#8fb4c4" stroke-width=".9"/><path d="M222.300 552.900l.6-2.800h12.700l-.3 2.900zM236.300 552.800l2.600-3.400-.8 3.400z" fill="#E6D61C"/><path d="M225 550.400v2.400M227.500 550.400v2.400M230 550.400v2.400M232.500 550.400v2.400" stroke="#123456" stroke-width=".6"/>
<g transform="translate(30.0 0.9)"><ellipse cx="231.100" cy="549.800" rx="7.300" ry="7.800" fill="#123456"/><ellipse cx="231.100" cy="549.800" rx="6.300" ry="6.800" fill="#E6D61C"/><path d="M227 545.400h8.200M227.400 547h7.400M228.400 555.200h5.400" stroke="#123456" stroke-width=".7" stroke-dasharray="1.800 .500"/><path d="M221.200 549.600l19.200-1.200-1.600 3-1.400 2.600h-15l-1.200-2.200z" fill="#123456"/><path d="M221.800 549.300l18.200-1.100" stroke="#8fb4c4" stroke-width=".9"/><path d="M222.300 552.900l.6-2.800h12.700l-.3 2.900zM236.300 552.800l2.600-3.400-.8 3.400z" fill="#E6D61C"/><path d="M225 550.400v2.400M227.500 550.400v2.400M230 550.400v2.400M232.500 550.400v2.400" stroke="#123456" stroke-width=".6"/></g>
<text transform="translate(278.92 555.24) scale(0.915 0.976)" x="0" y="0" font-family="'Liberation Serif',serif" font-weight="bold" font-style="italic" font-size="17" fill="#000" stroke="#D6D428" stroke-width="1.5" paint-order="stroke" stroke-linejoin="round">89</text><text transform="translate(278.92 555.24) scale(0.915 0.976)" x="0" y="0" font-family="'Liberation Serif',serif" font-weight="bold" font-style="italic" font-size="17" fill="#000" stroke="#000" stroke-width=".7" stroke-linejoin="round">89</text><path d="M288.500 555.400q-1 1.600-3.200 1.600" stroke="#000" stroke-width="1" fill="none"/><text x="295.6" y="551.5" font-family="'Liberation Sans',sans-serif" font-weight="bold" font-size="3.6" fill="#1a1a00" stroke="#C8C828" stroke-width=".8" paint-order="stroke">ERS</text>
<circle cx="319" cy="549" r="6.700" fill="#7E5A3C"/><circle cx="319" cy="549" r="5.200" fill="#A88660"/><path d="M319 543.800v10.400M315.200 545.200q2.400 3.800 0 7.600M322.800 545.200q-2.400 3.800 0 7.600" stroke="#5c3c24" stroke-width=".8" fill="none"/><path d="M308 547l3.600 .700h14.800l3.600-.700-1.600 3.200 1 3.200-3 .300h-14.800l-3-.300 1-3.200z" fill="#D42C6A"/><path d="M311.800 552.200v-3.400M313.400 550.400h-1.600M313.600 552.200v-3.400M315.200 552.200l1-3.400 1 3.400M318.400 552.200v-3.400l1 2 1-2v3.400M321.800 552.200v-3.400l1 2 1-2v3.400M325 552.200h1.400" stroke="#fff" stroke-width=".75" fill="none"/><path d="M316.500 546.300h5" stroke="#f4d8c0" stroke-width="1"/>
<g transform="translate(31.9 0.6)"><circle cx="319" cy="549" r="6.700" fill="#7E5A3C"/><circle cx="319" cy="549" r="5.200" fill="#A88660"/><path d="M319 543.800v10.400M315.200 545.200q2.400 3.800 0 7.600M322.800 545.200q-2.400 3.800 0 7.600" stroke="#5c3c24" stroke-width=".8" fill="none"/><path d="M308 547l3.600 .700h14.800l3.600-.700-1.600 3.200 1 3.200-3 .300h-14.800l-3-.300 1-3.200z" fill="#D42C6A"/><path d="M311.800 552.200v-3.400M313.400 550.400h-1.600M313.600 552.200v-3.400M315.200 552.200l1-3.400 1 3.400M318.400 552.200v-3.400l1 2 1-2v3.400M321.800 552.200v-3.400l1 2 1-2v3.400M325 552.200h1.400" stroke="#fff" stroke-width=".75" fill="none"/><path d="M316.500 546.300h5" stroke="#f4d8c0" stroke-width="1"/></g>
<path d="M408.100 546.200l.3-3 2.200 1.600 1.900-3.400 1.900 3.400 2.200-1.600.3 3z" fill="#E8A21C"/><path d="M408.500 543v.8M412.500 541.400v1M416.600 543v.8" stroke="#3a3468" stroke-width="1"/><path d="M403.100 545.600l4.500 .600h9.700l4.500-.600-1.600 3 .8 3.300-3.800-.300h-9.600l-3.800 .300.800-3.300z" fill="#78AE2C"/><path d="M406 547.300h13v3.300h-13z" fill="#96C83C"/><path d="M407 550.200v-2.500l1.500 2.500v-2.500M410.200 550.200l1-2.500 1 2.500M414 547.700v2.500M415.400 547.700l1.200 2.500 1.200-2.500" stroke="#456c18" stroke-width=".7" fill="none"/><path d="M411 550.500l1.500-1.600 1.500 1.600z" fill="#E8A21C"/><path d="M408.300 553.200q4.200 2.600 8.500 0l-.3-1.200h-7.900z" fill="#2E2C5C"/><path d="M410.500 552.300h4v1.200h-4z" fill="#F0B060"/>
<g transform="translate(30.1 -1.7)"><path d="M408.100 546.200l.3-3 2.200 1.600 1.900-3.400 1.900 3.400 2.200-1.600.3 3z" fill="#E8A21C"/><path d="M408.500 543v.8M412.500 541.400v1M416.600 543v.8" stroke="#3a3468" stroke-width="1"/><path d="M403.100 545.600l4.500 .600h9.700l4.500-.600-1.600 3 .8 3.300-3.800-.300h-9.600l-3.800 .300.800-3.300z" fill="#78AE2C"/><path d="M406 547.300h13v3.300h-13z" fill="#96C83C"/><path d="M407 550.200v-2.500l1.500 2.500v-2.500M410.200 550.200l1-2.500 1 2.500M414 547.700v2.500M415.400 547.700l1.200 2.500 1.200-2.500" stroke="#456c18" stroke-width=".7" fill="none"/><path d="M411 550.500l1.500-1.600 1.500 1.600z" fill="#E8A21C"/><path d="M408.300 553.200q4.200 2.600 8.500 0l-.3-1.200h-7.900z" fill="#2E2C5C"/><path d="M410.500 552.300h4v1.200h-4z" fill="#F0B060"/></g>
<path d="M459.800 549.200q1.400-3.600 6-5.200l8-.2-1 1.400h-6q-2.400.8-3.400 2.200h5.200l-.7 1.400h-5.400q-.6 1 0 1.800h-2.200q-.8-.6-.5-1.400z" fill="#1F389C"/><path d="M470.400 545.400h-2.400l-2.600 6.400h2.500zM471.500 543.800h8.300l-.8 1.300h-8.200zM470.600 546h7.400l-.7 1.300h-7.300zM469.800 548.200h6.200l-.7 1.300h-6.100z" fill="#1F389C"/><path d="M469.800 550.200h2.600v2.200h-2.600z" fill="#D82830"/><path d="M474.200 549.400h3v1h-2.200v.8q2.400-.2 2.500 1.200q0 1.200-1.800 1.200h-1.800" stroke="#2a2c54" stroke-width=".8" fill="none"/><path d="M459.800 553.400h20" stroke="#3c50a8" stroke-width=".8"/>
<path d="M494.300 549q-.4-4.200 3.200-5.600q1.600-.6 2.600.6q3.100-1.800 6.200 0q1-1.200 2.600-.6q3.600 1.400 3.200 5.600l-1.600-.8q.2 7.200-7.300 11.300q-7.500-4.100-7.300-11.300z" fill="#3A2626"/><path d="M497.400 547.400q5.800-2.600 11.600 0" stroke="#B8A060" stroke-width=".9" fill="none"/><path d="M498.400 549.200q4.800-1.800 9.600 0q0 5-4.800 8.300q-4.800-3.300-4.800-8.300z" fill="#1E2456"/><path d="M500.400 555.400q2.800 2.800 5.600 0l-2.800 2.500z" fill="#A82222"/><path d="M502.300 550.200l1.400 1.200-.4 2.800-1.200 .8-.8-2.200z" fill="#f2f2f8"/>
<g transform="translate(29.2 0.6)"><path d="M494.300 549q-.4-4.200 3.200-5.600q1.600-.6 2.600.6q3.100-1.800 6.200 0q1-1.200 2.600-.6q3.600 1.400 3.200 5.600l-1.600-.8q.2 7.200-7.300 11.300q-7.500-4.100-7.300-11.300z" fill="#3A2626"/><path d="M497.400 547.400q5.800-2.600 11.600 0" stroke="#B8A060" stroke-width=".9" fill="none"/><path d="M498.400 549.200q4.800-1.800 9.600 0q0 5-4.800 8.300q-4.800-3.300-4.800-8.300z" fill="#1E2456"/><path d="M500.400 555.400q2.800 2.800 5.600 0l-2.800 2.500z" fill="#A82222"/><path d="M502.300 550.200l1.400 1.200-.4 2.800-1.200 .8-.8-2.200z" fill="#f2f2f8"/></g>
<text transform="translate(550.44 552.38) scale(1.005 1.389)" x="0" y="0" font-family="'Liberation Serif',serif" font-weight="bold" font-style="italic" font-size="9" fill="none" stroke="#98a4b4" stroke-width="1.900" stroke-linejoin="round">SeHrss</text><text transform="translate(549.84 551.88) scale(1.005 1.389)" x="0" y="0" font-family="'Liberation Serif',serif" font-weight="bold" font-style="italic" font-size="9" fill="#fff" stroke="#1c2c50" stroke-width="1.100" paint-order="stroke" stroke-linejoin="round">SeHrss</text><rect x="556.100" y="552.100" width="14.700" height="1.800" fill="#2C4870"/><circle cx="565.300" cy="549.400" r="1" fill="#E8B820"/>
<g transform="translate(30.3 1.2)"><text transform="translate(550.44 552.38) scale(1.005 1.389)" x="0" y="0" font-family="'Liberation Serif',serif" font-weight="bold" font-style="italic" font-size="9" fill="none" stroke="#98a4b4" stroke-width="1.900" stroke-linejoin="round">SeHrss</text><text transform="translate(549.84 551.88) scale(1.005 1.389)" x="0" y="0" font-family="'Liberation Serif',serif" font-weight="bold" font-style="italic" font-size="9" fill="#fff" stroke="#1c2c50" stroke-width="1.100" paint-order="stroke" stroke-linejoin="round">SeHrss</text><rect x="556.100" y="552.100" width="14.700" height="1.800" fill="#2C4870"/><circle cx="565.300" cy="549.400" r="1" fill="#E8B820"/></g>
<path d="M612.300 542.800l4.600 2.600 4 1.500h6l4.200-1.600 4.700-2.700-2.400 4.600v2.400l2.400 4.600-4.700-2.400-4-1h-6.400l-4 1.300-4.600 2.300 2.300-4.700v-2.300z" fill="#D6301E"/><path d="M620.500 545.700q3.500-1.800 6.600 0v1.600h-6.600z" fill="#E8907C"/><path d="M616 548.200l2.400 2 1.400-2.200 1.500 2.200 1.600-2.200 1.500 2.200 1.600-2.200 1.600 2.200 2-2" stroke="#fbd8d0" stroke-width=".8" fill="none"/><circle cx="617.900" cy="552.300" r="2.800" fill="#F4C414"/><path d="M620.700 552.600l3.500-1.300 1 1.600" stroke="#F0A070" stroke-width="1" fill="none"/><path d="M625.500 553.300h4.200" stroke="#5a1810" stroke-width=".8"/>
<g transform="translate(394.7 2.0)"><path d="M612.300 542.800l4.600 2.600 4 1.500h6l4.200-1.600 4.700-2.700-2.400 4.600v2.400l2.400 4.600-4.700-2.400-4-1h-6.400l-4 1.300-4.600 2.300 2.300-4.700v-2.300z" fill="#D6301E"/><path d="M620.500 545.700q3.500-1.800 6.600 0v1.600h-6.600z" fill="#E8907C"/><path d="M616 548.200l2.400 2 1.400-2.200 1.500 2.200 1.600-2.200 1.500 2.200 1.600-2.200 1.600 2.200 2-2" stroke="#fbd8d0" stroke-width=".8" fill="none"/><circle cx="617.900" cy="552.300" r="2.800" fill="#F4C414"/><path d="M620.700 552.600l3.500-1.300 1 1.600" stroke="#F0A070" stroke-width="1" fill="none"/><path d="M625.500 553.300h4.200" stroke="#5a1810" stroke-width=".8"/></g>
<g transform="translate(428.0 1.2)"><path d="M612.300 542.800l4.600 2.600 4 1.500h6l4.200-1.600 4.700-2.700-2.400 4.600v2.400l2.400 4.600-4.700-2.400-4-1h-6.400l-4 1.300-4.600 2.300 2.300-4.700v-2.300z" fill="#D6301E"/><path d="M620.500 545.700q3.500-1.800 6.600 0v1.600h-6.600z" fill="#E8907C"/><path d="M616 548.200l2.400 2 1.400-2.200 1.500 2.200 1.600-2.200 1.500 2.200 1.600-2.200 1.600 2.200 2-2" stroke="#fbd8d0" stroke-width=".8" fill="none"/><circle cx="617.900" cy="552.300" r="2.800" fill="#F4C414"/><path d="M620.700 552.600l3.500-1.300 1 1.600" stroke="#F0A070" stroke-width="1" fill="none"/><path d="M625.500 553.300h4.200" stroke="#5a1810" stroke-width=".8"/></g>
<path d="M648.800 544.600l3.600 .600 2.600 1.700 5-2.700-2.600 4-2.400 4.400-2.300-3.400-1.400-2.200-2.700-.6 1.800-.7z" fill="#1E2C62"/><path d="M656.800 547.400q3-.8 3 1.400q-.4 1.800-3.400 3.700h4" stroke="#1E2C62" stroke-width=".9" fill="none"/><path d="M651.800 552.700h3.400" stroke="#1E2C62" stroke-width=".9"/><path d="M648.300 555.900h11.600" stroke="#4c5680" stroke-width="2.200" stroke-dasharray="1.400 .5"/>
<g transform="translate(31.3 1.4)"><path d="M648.800 544.600l3.600 .600 2.600 1.700 5-2.700-2.600 4-2.400 4.400-2.300-3.400-1.400-2.200-2.700-.6 1.800-.7z" fill="#1E2C62"/><path d="M656.800 547.400q3-.8 3 1.400q-.4 1.800-3.400 3.700h4" stroke="#1E2C62" stroke-width=".9" fill="none"/><path d="M651.800 552.700h3.400" stroke="#1E2C62" stroke-width=".9"/><path d="M648.300 555.900h11.600" stroke="#4c5680" stroke-width="2.200" stroke-dasharray="1.400 .5"/></g>
<path d="M711.900 546.200q.6-2.600 3.600-3.100l6.200 .3q3 .5 3.100 3l-.2 3.200-2.400 1.200-1.400 2-2.600-.7-3 .8-3.400-.4-2.600 1.600-1.800 1.700-1.400-1 .6-2.400 2.400-2.700 2.400-1.700z" fill="#7A3018"/><path d="M712.300 546q.8-2.500 3.200-2.700l1.600 4.400-2.400 1.300z" fill="#C8941E"/><path d="M716.500 544.300h5.200q2 .4 2.300 1.800h-6.800z" fill="#A85030"/><path d="M713.500 551.400l3.600-1.500 4.600 .6" stroke="#3c1408" stroke-width="1" fill="none"/><path d="M714.300 552.900l1.200-.9" stroke="#e8e0e0" stroke-width=".9"/>
<g transform="translate(30.0 1.9)"><path d="M711.900 546.200q.6-2.600 3.600-3.100l6.200 .3q3 .5 3.100 3l-.2 3.200-2.400 1.200-1.400 2-2.600-.7-3 .8-3.400-.4-2.600 1.600-1.800 1.700-1.400-1 .6-2.400 2.400-2.700 2.400-1.700z" fill="#7A3018"/><path d="M712.300 546q.8-2.500 3.200-2.700l1.600 4.400-2.400 1.300z" fill="#C8941E"/><path d="M716.500 544.300h5.200q2 .4 2.300 1.800h-6.800z" fill="#A85030"/><path d="M713.500 551.400l3.600-1.500 4.600 .6" stroke="#3c1408" stroke-width="1" fill="none"/><path d="M714.300 552.900l1.200-.9" stroke="#e8e0e0" stroke-width=".9"/></g>
<path d="M771.700 543.600h7.400l5.100 4.800v8.500h-12.500z" fill="#FBE3D4" stroke="#DE6A34" stroke-width="1.250" stroke-linejoin="round"/><path d="M779.100 543.600v4.800h5.100" fill="#F6C8AC" stroke="#DE6A34" stroke-width=".9" stroke-linejoin="round"/><path d="M774.200 553.900l6.600-7M774.600 548.400l6.600 5.600" stroke="#E2602C" stroke-width="1.500" stroke-linecap="round"/><path d="M773.800 545.400l2.600 2.800" stroke="#2A9C8C" stroke-width="1.300"/><circle cx="773.900" cy="549.900" r=".9" fill="none" stroke="#E2602C" stroke-width=".6"/><circle cx="781.200" cy="548.400" r=".7" fill="#D04040"/><path d="M771.200 559.100h13.600" stroke="#c8a898" stroke-width="1.100" stroke-dasharray="2 .4"/>
<g transform="translate(365.7 0.9)"><path d="M771.700 543.600h7.400l5.100 4.800v8.500h-12.500z" fill="#FBE3D4" stroke="#DE6A34" stroke-width="1.250" stroke-linejoin="round"/><path d="M779.100 543.600v4.800h5.100" fill="#F6C8AC" stroke="#DE6A34" stroke-width=".9" stroke-linejoin="round"/><path d="M774.200 553.900l6.600-7M774.600 548.400l6.600 5.600" stroke="#E2602C" stroke-width="1.500" stroke-linecap="round"/><path d="M773.800 545.400l2.600 2.800" stroke="#2A9C8C" stroke-width="1.300"/><circle cx="773.900" cy="549.900" r=".9" fill="none" stroke="#E2602C" stroke-width=".6"/><circle cx="781.200" cy="548.400" r=".7" fill="#D04040"/><path d="M771.200 559.100h13.600" stroke="#c8a898" stroke-width="1.100" stroke-dasharray="2 .4"/></g>
<g transform="translate(395.0 1.2)"><path d="M771.700 543.600h7.400l5.100 4.800v8.500h-12.500z" fill="#FBE3D4" stroke="#DE6A34" stroke-width="1.250" stroke-linejoin="round"/><path d="M779.100 543.600v4.800h5.100" fill="#F6C8AC" stroke="#DE6A34" stroke-width=".9" stroke-linejoin="round"/><path d="M774.200 553.900l6.600-7M774.600 548.400l6.600 5.600" stroke="#E2602C" stroke-width="1.500" stroke-linecap="round"/><path d="M773.800 545.400l2.600 2.800" stroke="#2A9C8C" stroke-width="1.300"/><circle cx="773.900" cy="549.900" r=".9" fill="none" stroke="#E2602C" stroke-width=".6"/><circle cx="781.200" cy="548.400" r=".7" fill="#D04040"/><path d="M771.200 559.100h13.600" stroke="#c8a898" stroke-width="1.100" stroke-dasharray="2 .4"/></g>
<path d="M800.200 548.600q.2 4 3.600 8.300q-.2-3 1.200-5.200h4.200q1.400 2.200 1.200 5.200q3.400-4.300 3.600-8.300z" fill="#fff" stroke="#4a4e58" stroke-width=".8" stroke-linejoin="round"/><path d="M803 550.400v2.600M804.500 550.400v2.600M806 550.400v2.600M807.500 550.400v2.600M809 550.400v2.600M810.500 550.400v2.600" stroke="#5a5a68" stroke-width=".6"/><path d="M798 545.200l2-2.800q1.600-.4 3 .6q1.800 1.700 4 1.700q2.200 0 4-1.700q1.400-1 3-.6l2 2.800-1.400 2.600q-1.200 1.700-3.200 1.800h-8.800q-2-.1-3.200-1.800z" fill="#CC2020"/><circle cx="801.800" cy="545.400" r=".7" fill="#7a0c0c"/><circle cx="812.200" cy="545.400" r=".7" fill="#7a0c0c"/>
<g transform="translate(32.0 0.0)"><path d="M800.200 548.600q.2 4 3.600 8.300q-.2-3 1.200-5.200h4.200q1.400 2.200 1.200 5.200q3.400-4.300 3.600-8.300z" fill="#fff" stroke="#4a4e58" stroke-width=".8" stroke-linejoin="round"/><path d="M803 550.400v2.600M804.500 550.400v2.600M806 550.400v2.600M807.500 550.400v2.600M809 550.400v2.600M810.500 550.400v2.600" stroke="#5a5a68" stroke-width=".6"/><path d="M798 545.200l2-2.800q1.600-.4 3 .6q1.800 1.700 4 1.700q2.200 0 4-1.700q1.400-1 3-.6l2 2.800-1.400 2.600q-1.200 1.700-3.200 1.800h-8.800q-2-.1-3.200-1.800z" fill="#CC2020"/><circle cx="801.800" cy="545.400" r=".7" fill="#7a0c0c"/><circle cx="812.200" cy="545.400" r=".7" fill="#7a0c0c"/></g>
<path d="M864.600 541.700h7.700l2.800 4v5.600l-2.800 4.200h-7.700l-2.800-4.200v-5.600z" fill="#2F5CB4"/><path d="M868.400 541.300v14.600" stroke="#1c3c84" stroke-width=".8"/><path d="M864.400 543.400h3M869.600 543.400h3M864.800 544.600h2.400M870 544.600h2.400" stroke="#c8d8f0" stroke-width=".8"/><path d="M858.100 545.600h20.800v6.100h-20.800z" fill="#4A84D8"/><path d="M859.500 550.600v-3.800h1.500v1.800h-1.500l1.700 2M862.500 546.800h2v3.800h-2zM866 546.800v3.800h1.800v-1.900h-1.800v-1.900h1.500M869.500 546.800h2v3.800h-2zM872.600 546.800h2.400M873.800 546.800v3.800M877.400 546.800h-1.600v1.900h1.600v1.900h-1.800" stroke="#fff" stroke-width=".9" fill="none"/><path d="M865.200 552.600h2.400v1.400h-2.400zM869.400 552.600h2.400v1.400h-2.400z" fill="#F09A3C"/>
<g transform="translate(29.9 1.4)"><path d="M864.600 541.700h7.700l2.800 4v5.600l-2.800 4.200h-7.700l-2.800-4.200v-5.600z" fill="#2F5CB4"/><path d="M868.400 541.300v14.600" stroke="#1c3c84" stroke-width=".8"/><path d="M864.400 543.400h3M869.600 543.400h3M864.800 544.600h2.400M870 544.600h2.400" stroke="#c8d8f0" stroke-width=".8"/><path d="M858.100 545.600h20.800v6.100h-20.800z" fill="#4A84D8"/><path d="M859.500 550.600v-3.800h1.500v1.800h-1.500l1.700 2M862.500 546.800h2v3.800h-2zM866 546.800v3.800h1.800v-1.900h-1.800v-1.900h1.500M869.500 546.800h2v3.800h-2zM872.600 546.800h2.400M873.800 546.800v3.800M877.400 546.800h-1.600v1.900h1.600v1.900h-1.800" stroke="#fff" stroke-width=".9" fill="none"/><path d="M865.200 552.600h2.400v1.400h-2.400zM869.400 552.600h2.400v1.400h-2.400z" fill="#F09A3C"/></g>
<path d="M926.600 541.600h4.200l6.400 10.700-2.200 5.300h-12.600l-2.600-5.300z" fill="#141210" stroke="#D87A1E" stroke-width=".9" stroke-linejoin="round"/><path d="M928.700 543.800l5.700 9.700h-11.400z" fill="none" stroke="#b8b8b8" stroke-width="1.300" stroke-dasharray="1.200 .5" stroke-linejoin="round"/><path d="M928.400 545.600q-.6 2.400 .8 3.800q1.200 1.400-.2 2.800h-1.600q-1.200-1.400-.4-3.200q.8-1.600 1.400-3.400z" fill="#F4A81C"/><path d="M923.600 555.200h10.200" stroke="#c8c8c8" stroke-width="1.300" stroke-dasharray="1.300 .4"/>
<g transform="translate(29.9 1.3)"><path d="M926.600 541.600h4.200l6.400 10.700-2.200 5.300h-12.600l-2.600-5.300z" fill="#141210" stroke="#D87A1E" stroke-width=".9" stroke-linejoin="round"/><path d="M928.700 543.800l5.700 9.700h-11.400z" fill="none" stroke="#b8b8b8" stroke-width="1.300" stroke-dasharray="1.200 .5" stroke-linejoin="round"/><path d="M928.400 545.600q-.6 2.400 .8 3.800q1.200 1.400-.2 2.800h-1.600q-1.200-1.400-.4-3.200q.8-1.600 1.400-3.400z" fill="#F4A81C"/><path d="M923.600 555.200h10.200" stroke="#c8c8c8" stroke-width="1.300" stroke-dasharray="1.300 .4"/></g>
<path d="M1071 551.200l3-4.400 5.600-2.200 3.400 1 5 1.700 4.600 .9-2.800 1.400-2.600 2.200-3.400 1.200-2.800-.2-4.200-.8z" fill="#B4B6C0"/><path d="M1081.200 546.200q.4-2.800 3.400-3.500l2.800 .1 1.300 2.400-.4 3-2.200 1-3-.8z" fill="#1E6CC8"/><path d="M1079.600 545.300l3.600 1.700-.4 1.200-3.800-1.500z" fill="#E6D260"/><path d="M1074.200 551l4-1 3.600 .6-1.200 2.200-3.600 1-3 .2z" fill="#2E78B8"/><path d="M1076 547.400l3-1 1 1.800-2.600 1z" fill="#e8c8d8"/><path d="M1072 555.200l3.600-2.400" stroke="#4C8CC8" stroke-width="1.200"/><circle cx="1084.200" cy="552" r="1.300" fill="#fff" stroke="#184848" stroke-width=".7"/>
<g transform="translate(30.9 1.0)"><path d="M1071 551.200l3-4.400 5.600-2.200 3.400 1 5 1.700 4.600 .9-2.800 1.400-2.600 2.200-3.400 1.200-2.800-.2-4.200-.8z" fill="#B4B6C0"/><path d="M1081.200 546.200q.4-2.800 3.400-3.500l2.800 .1 1.300 2.400-.4 3-2.200 1-3-.8z" fill="#1E6CC8"/><path d="M1079.600 545.300l3.600 1.700-.4 1.200-3.800-1.500z" fill="#E6D260"/><path d="M1074.200 551l4-1 3.600 .6-1.200 2.200-3.600 1-3 .2z" fill="#2E78B8"/><path d="M1076 547.400l3-1 1 1.800-2.600 1z" fill="#e8c8d8"/><path d="M1072 555.200l3.600-2.400" stroke="#4C8CC8" stroke-width="1.200"/><circle cx="1084.200" cy="552" r="1.300" fill="#fff" stroke="#184848" stroke-width=".7"/></g>
</svg>
</div></body></html>
